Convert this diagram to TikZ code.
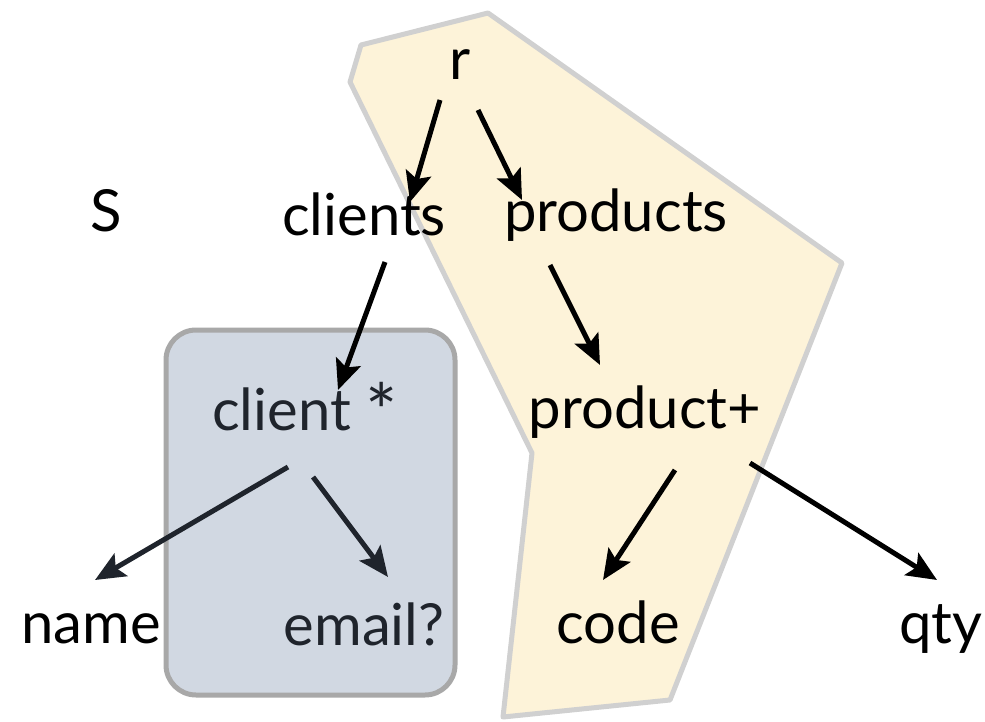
\documentclass[tikz,border=0pt]{standalone}
\usepackage{fontspec}
\setmainfont{Lato}
\usetikzlibrary{arrows.meta}
\definecolor{cream}{HTML}{FDF3D9}
\definecolor{rim}{HTML}{D0D0D0}
\definecolor{slate}{HTML}{D1D8E2}
\definecolor{slaterim}{HTML}{A8A8A8}
\definecolor{ink}{HTML}{1F242C}

\begin{document}
\begin{tikzpicture}[x=1pt, y=-1pt, >={Stealth[length=30pt, width=26pt, inset=6pt]},
	lbl/.style={anchor=base, inner sep=0pt, font=\fontsize{58}{62}\selectfont},
	arr/.style={->, line width=5pt}]
	\useasboundingbox (0,0) rectangle (985,722);
	% shaded region: r, products, product+, code
	\draw[rim, fill=cream, line width=5pt, line join=round]
		(361,45) -- (488,13) -- (842,263) -- (670,700) -- (503,717) -- (532,453) -- (350,82) -- cycle;
	% grey box round client *
	\draw[slaterim, fill=slate, line width=5pt, rounded corners=30pt] (166,330) rectangle (455,695);
	% labels
	\node[lbl] (S) at (106,232) {S};
	\node[lbl] (r) at (460,80) {r};
	\node[lbl] (clients) at (364,236) {clients};
	\node[lbl] (products) at (616,232) {products};
	\node[lbl, text=ink] (client) at (305,430) {client \raisebox{-9pt}{\fontsize{76}{76}\selectfont *}};
	\node[lbl] (product) at (645,428) {product+};
	\node[lbl] (name) at (91,643) {name};
	\node[lbl, text=ink] (email) at (364,645) {email?};
	\node[lbl] (code) at (618,643) {code};
	\node[lbl] (qty) at (941,643) {qty};
	% edges
	\draw[arr] ([shift={(-20,20)}]r.base) -- ([shift={(46,-34)}]clients.base);
	\draw[arr] ([shift={(18,30)}]r.base) -- ([shift={(-94,-32)}]products.base);
	\draw[arr] ([shift={(21,26)}]clients.base) -- ([shift={(33,-40)}]client.base);
	\draw[arr] ([shift={(-66,33)}]products.base) -- ([shift={(-45,-63)}]product.base);
	\draw[arr, ink] ([shift={(-17,37)}]client.base) -- ([shift={(4,-63)}]name.base);
	\draw[arr, ink] ([shift={(8,47)}]client.base) -- ([shift={(24,-68)}]email.base);
	\draw[arr] ([shift={(30,42)}]product.base) -- ([shift={(-15,-63)}]code.base);
	\draw[arr] ([shift={(105,35)}]product.base) -- ([shift={(-4,-63)}]qty.base);
\end{tikzpicture}
\end{document}
